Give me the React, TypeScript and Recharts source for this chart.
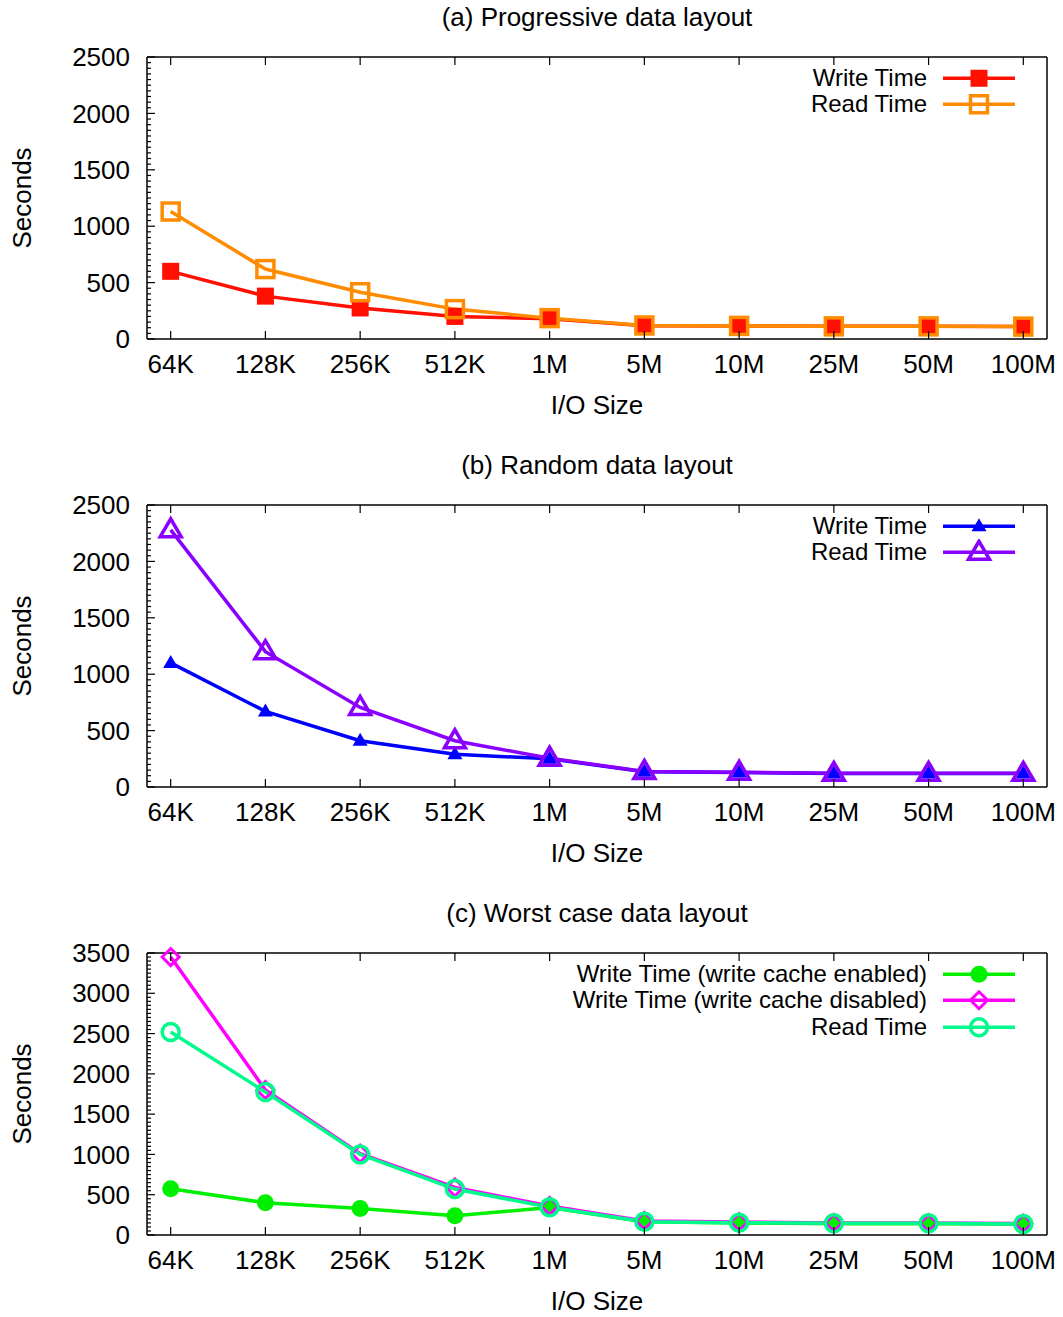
import React from 'react';
import { LineChart, Line, XAxis, YAxis, Legend } from 'recharts';

const sizes = ['64K', '128K', '256K', '512K', '1M', '5M', '10M', '25M', '50M', '100M'];

// (a) progressive layout
const progWrite = [600, 380, 275, 200, 180, 118, 115, 112, 112, 110];
const progRead = [1130, 620, 415, 265, 185, 120, 116, 112, 112, 110];

// (b) random layout
const randWrite = [1100, 670, 410, 290, 250, 136, 128, 120, 120, 120];
const randRead = [2280, 1200, 705, 410, 255, 138, 130, 121, 121, 121];

// (c) worst case layout
const worstEnabled = [575, 400, 330, 240, 340, 165, 150, 140, 140, 135];
const worstDisabled = [3450, 1800, 1010, 590, 360, 175, 160, 150, 148, 142];
const worstRead = [2520, 1775, 1000, 570, 345, 165, 153, 145, 145, 137];

const ticks2500 = [0, 500, 1000, 1500, 2000, 2500];
const ticks3500 = [0, 500, 1000, 1500, 2000, 2500, 3000, 3500];
const MINOR_STEP = 50;

const FONT = '"Liberation Sans", Arial, Helvetica, sans-serif';
const FS = 26;
const LEGEND_FS = 24;
const W = 1063;
const H = 448;
const GAP = 17;

type MarkerKind = 'square' | 'squareOpen' | 'triangle' | 'triangleOpen' | 'circle' | 'circleOpen' | 'diamondOpen';

interface Series {
  key: string;
  name: string;
  color: string;
  marker: MarkerKind;
}

const Marker = ({ kind, cx, cy, color }: { kind: MarkerKind; cx: number; cy: number; color: string }) => {
  switch (kind) {
    case 'square':
      return <rect x={cx - 8.5} y={cy - 8.5} width={17} height={17} fill={color} />;
    case 'squareOpen':
      return <rect x={cx - 8.5} y={cy - 8.5} width={17} height={17} fill="none" stroke={color} strokeWidth={3.5} />;
    case 'triangle':
      return <polygon points={`${cx},${cy - 8} ${cx - 7.5},${cy + 5} ${cx + 7.5},${cy + 5}`} fill={color} />;
    case 'triangleOpen':
      return (
        <polygon
          points={`${cx},${cy - 11} ${cx - 10.5},${cy + 7} ${cx + 10.5},${cy + 7}`}
          fill="none"
          stroke={color}
          strokeWidth={3.5}
        />
      );
    case 'circle':
      return <circle cx={cx} cy={cy} r={8.5} fill={color} />;
    case 'circleOpen':
      return <circle cx={cx} cy={cy} r={8.5} fill="none" stroke={color} strokeWidth={3.5} />;
    case 'diamondOpen':
      return (
        <polygon
          points={`${cx},${cy - 8.5} ${cx + 8.5},${cy} ${cx},${cy + 8.5} ${cx - 8.5},${cy}`}
          fill="none"
          stroke={color}
          strokeWidth={3}
        />
      );
    default:
      return null;
  }
};

const LeftTick = (props: any) => {
  const { x, y, payload, major } = props;
  const isMajor = major.includes(payload.value);
  const edge = x + GAP;
  return (
    <g>
      <line x1={edge} x2={edge + (isMajor ? 8 : 4)} y1={y} y2={y} stroke="#000" strokeWidth={1.2} />
      {isMajor && (
        <text x={x} y={y} dy="0.35em" textAnchor="end" fontSize={FS} fontFamily={FONT} fill="#000">
          {payload.value}
        </text>
      )}
    </g>
  );
};

const RightTick = (props: any) => {
  const { x, y, payload, major } = props;
  const isMajor = major.includes(payload.value);
  return <line x1={x} x2={x - (isMajor ? 8 : 4)} y1={y} y2={y} stroke="#000" strokeWidth={1.2} />;
};

const BottomTick = (props: any) => {
  const { x, y, payload } = props;
  const edge = y - 16;
  return (
    <g>
      <line x1={x} x2={x} y1={edge} y2={edge - 8} stroke="#000" strokeWidth={1.2} />
      <text x={x} y={y} dy="0.71em" textAnchor="middle" fontSize={FS} fontFamily={FONT} fill="#000">
        {sizes[payload.value]}
      </text>
    </g>
  );
};

const TopTick = (props: any) => {
  const { x, y } = props;
  return <line x1={x} x2={x} y1={y} y2={y + 8} stroke="#000" strokeWidth={1.2} />;
};

const LegendBox = ({ series }: { series: Series[] }) => (
  <div style={{ fontFamily: FONT, fontSize: LEGEND_FS, color: '#000' }}>
    {series.map((s) => (
      <div
        key={s.key}
        style={{ display: 'flex', alignItems: 'center', justifyContent: 'flex-end', height: 26.5, lineHeight: '26.5px' }}
      >
        <span style={{ marginRight: 16, whiteSpace: 'nowrap' }}>{s.name}</span>
        <svg width={72} height={26.5} style={{ display: 'block' }}>
          <line x1={0} x2={72} y1={13.25} y2={13.25} stroke={s.color} strokeWidth={3.5} />
          <Marker kind={s.marker} cx={36} cy={13.25} color={s.color} />
        </svg>
      </div>
    ))}
  </div>
);

const Panel = ({
  title,
  data,
  series,
  yMax,
  yTicks,
}: {
  title: string;
  data: any[];
  series: Series[];
  yMax: number;
  yTicks: number[];
}) => {
  const allTicks = Array.from({ length: yMax / MINOR_STEP + 1 }, (_, i) => i * MINOR_STEP);
  const xTicks = sizes.map((_, i) => i);
  return (
    <div style={{ position: 'relative', width: W, height: H }}>
      <div
        style={{
          position: 'absolute',
          left: 147,
          width: 900,
          top: 4,
          textAlign: 'center',
          fontFamily: FONT,
          fontSize: FS,
          lineHeight: '26px',
          color: '#000',
        }}
      >
        {title}
      </div>
      <LineChart width={W} height={H} data={data} margin={{ top: 56, right: 15, left: 10, bottom: 29 }}>
        <XAxis
          dataKey="i"
          type="number"
          domain={[-0.25, 9.25]}
          ticks={xTicks}
          interval={0}
          height={80}
          tickSize={0}
          tickMargin={16}
          tickLine={false}
          axisLine={{ stroke: '#000', strokeWidth: 1.5 }}
          tick={(p: any) => <BottomTick {...p} />}
          label={{ value: 'I/O Size', position: 'insideBottom', offset: 5, fontSize: FS, fontFamily: FONT, fill: '#000' }}
        />
        <XAxis
          xAxisId="top"
          dataKey="i"
          type="number"
          orientation="top"
          domain={[-0.25, 9.25]}
          ticks={xTicks}
          interval={0}
          height={1}
          tickSize={0}
          tickMargin={0}
          tickLine={false}
          axisLine={{ stroke: '#000', strokeWidth: 1.5 }}
          tick={(p: any) => <TopTick {...p} />}
        />
        <YAxis
          type="number"
          domain={[0, yMax]}
          ticks={allTicks}
          interval={0}
          width={137}
          tickSize={0}
          tickMargin={GAP}
          tickLine={false}
          axisLine={{ stroke: '#000', strokeWidth: 1.5 }}
          tick={(p: any) => <LeftTick {...p} major={yTicks} />}
          label={{
            value: 'Seconds',
            angle: -90,
            position: 'insideLeft',
            offset: 12,
            fontSize: FS,
            fontFamily: FONT,
            fill: '#000',
            style: { textAnchor: 'middle' },
          }}
        />
        <YAxis
          yAxisId="right"
          orientation="right"
          type="number"
          domain={[0, yMax]}
          ticks={allTicks}
          interval={0}
          width={1}
          tickSize={0}
          tickMargin={0}
          tickLine={false}
          axisLine={{ stroke: '#000', strokeWidth: 1.5 }}
          tick={(p: any) => <RightTick {...p} major={yTicks} />}
        />
        <Legend
          layout="vertical"
          align="center"
          verticalAlign="middle"
          wrapperStyle={{ top: 64.75, right: 48, left: 'auto', width: 'auto' }}
          content={() => <LegendBox series={series} />}
        />
        {series.map((s) => (
          <Line
            key={s.key}
            dataKey={s.key}
            name={s.name}
            stroke={s.color}
            strokeWidth={3.5}
            isAnimationActive={false}
            dot={(p: any) => <Marker key={`${s.key}-${p.index}`} kind={s.marker} cx={p.cx} cy={p.cy} color={s.color} />}
            activeDot={false}
          />
        ))}
      </LineChart>
    </div>
  );
};

const progData = sizes.map((s, i) => ({ i, size: s, write: progWrite[i], read: progRead[i] }));
const randData = sizes.map((s, i) => ({ i, size: s, write: randWrite[i], read: randRead[i] }));
const worstData = sizes.map((s, i) => ({
  i,
  size: s,
  enabled: worstEnabled[i],
  disabled: worstDisabled[i],
  read: worstRead[i],
}));

const progSeries: Series[] = [
  { key: 'write', name: 'Write Time', color: '#ff1000', marker: 'square' },
  { key: 'read', name: 'Read Time', color: '#ff8c00', marker: 'squareOpen' },
];
const randSeries: Series[] = [
  { key: 'write', name: 'Write Time', color: '#0000ff', marker: 'triangle' },
  { key: 'read', name: 'Read Time', color: '#8a00ff', marker: 'triangleOpen' },
];
const worstSeries: Series[] = [
  { key: 'enabled', name: 'Write Time (write cache enabled)', color: '#00f000', marker: 'circle' },
  { key: 'disabled', name: 'Write Time (write cache disabled)', color: '#ff00ff', marker: 'diamondOpen' },
  { key: 'read', name: 'Read Time', color: '#00fa8c', marker: 'circleOpen' },
];

export default function App() {
  return (
    <div style={{ position: 'absolute', left: 0, top: 0, width: W, background: '#fff' }}>
      <Panel title="(a) Progressive data layout" data={progData} series={progSeries} yMax={2500} yTicks={ticks2500} />
      <Panel title="(b) Random data layout" data={randData} series={randSeries} yMax={2500} yTicks={ticks2500} />
      <Panel title="(c) Worst case data layout" data={worstData} series={worstSeries} yMax={3500} yTicks={ticks3500} />
    </div>
  );
}
